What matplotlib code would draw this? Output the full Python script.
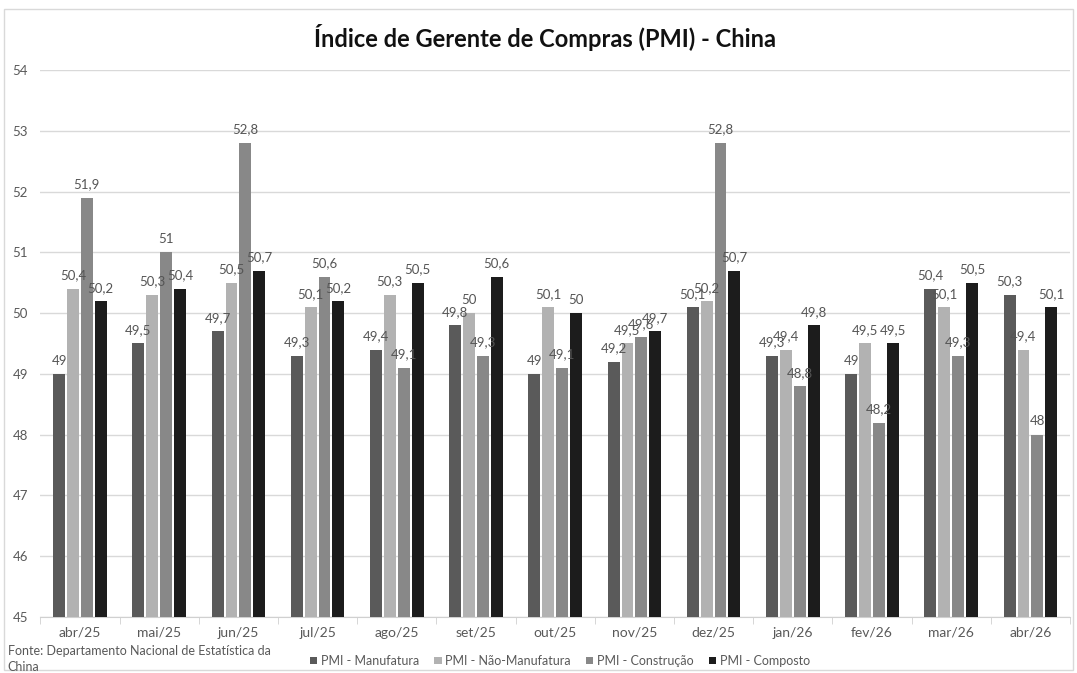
import matplotlib
matplotlib.use("Agg")
import matplotlib.pyplot as plt
import numpy as np
from matplotlib.patches import Rectangle

plt.rcParams['font.family'] = ['Lato', 'DejaVu Sans']

categories = ["abr/25", "mai/25", "jun/25", "jul/25", "ago/25", "set/25", "out/25",
              "nov/25", "dez/25", "jan/26", "fev/26", "mar/26", "abr/26"]
manufatura = [49, 49.5, 49.7, 49.3, 49.4, 49.8, 49, 49.2, 50.1, 49.3, 49, 50.4, 50.3]
nao_manufatura = [50.4, 50.3, 50.5, 50.1, 50.3, 50, 50.1, 49.5, 50.2, 49.4, 49.5, 50.1, 49.4]
construcao = [51.9, 51, 52.8, 50.6, 49.1, 49.3, 49.1, 49.6, 52.8, 48.8, 48.2, 49.3, 48]
composto = [50.2, 50.4, 50.7, 50.2, 50.5, 50.6, 50, 49.7, 50.7, 49.8, 49.5, 50.5, 50.1]

series = [
    ("PMI - Manufatura", manufatura, "#5a5a5a"),
    ("PMI - Não-Manufatura", nao_manufatura, "#b2b2b2"),
    ("PMI - Construção", construcao, "#888888"),
    ("PMI - Composto", composto, "#1c1c1c"),
]

fig = plt.figure(figsize=(10.77, 6.73), dpi=100)
ax = fig.add_axes([0.0375, 0.0832, 0.956, 0.8128])

x = np.arange(len(categories))
w = 0.15
step = 0.175
base = 45
for i, (name, vals, col) in enumerate(series):
    off = (i - 1.5) * step
    v = np.array(vals)
    ax.bar(x + off, v - base, bottom=base, width=w, color=col, label=name, zorder=3)
    for xi, vi in zip(x + off, v):
        txt = f"{vi:g}".replace(".", ",")
        ax.text(xi, vi + 0.12, txt, ha="center", va="bottom", fontsize=9.5,
                color="#555555", zorder=4)

ax.set_ylim(45, 54)
ax.set_xlim(-0.5, len(categories) - 0.5)
ax.set_yticks(range(45, 55))
ax.yaxis.grid(True, color="#d9d9d9", linewidth=1, zorder=0)
for s in ["top", "right", "left"]:
    ax.spines[s].set_visible(False)
ax.spines["bottom"].set_color("#d0d0d0")
ax.tick_params(axis="y", length=0, labelsize=9.5, labelcolor="#595959", pad=9)
ax.set_xticks(x)
ax.set_xticklabels(categories, fontsize=10, color="#595959")
ax.tick_params(axis="x", length=0, pad=7)
ax.set_xticks(np.arange(-0.5, len(categories)), minor=True)
ax.tick_params(axis="x", which="minor", length=5, color="#d0d0d0")

fig.text(0.506, 0.945, "Índice de Gerente de Compras (PMI) - China", ha="center",
         va="center", fontsize=17, fontweight="bold", color="#111111")

fig.text(0.007, 0.021, "Fonte: Departamento Nacional de Estatística da\nChina",
         ha="left", va="center", fontsize=9, color="#595959", linespacing=1.45)

handles, labels = ax.get_legend_handles_labels()
fig.legend(handles, labels, loc="center left", bbox_to_anchor=(0.277, 0.018),
           ncol=4, frameon=False, fontsize=9, handlelength=0.6, handleheight=0.6,
           handletextpad=0.3, columnspacing=1.2, labelcolor="#595959")

fig.patches.append(Rectangle((0.004, 0.004), 0.992, 0.982, transform=fig.transFigure,
                             fill=False, edgecolor="#d9d9d9", linewidth=1))

fig.savefig("out.png", dpi=100, facecolor="white")
